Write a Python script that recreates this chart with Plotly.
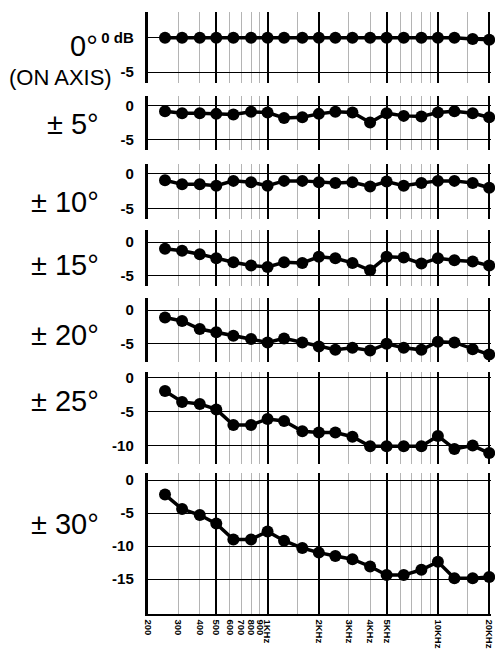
import math
import plotly.graph_objects as go

# ---------------- data ----------------
FREQS = [250, 315, 400, 500, 630, 800, 1000, 1250, 1600, 2000,
         2500, 3150, 4000, 5000, 6300, 8000, 10000, 12500, 16000, 20000]

ANGLE_LABELS = ["0°", "± 5°", "± 10°", "± 15°", "± 20°", "± 25°", "± 30°"]

RESP_0 = [0, 0, 0, 0, 0, 0, 0, 0, 0, 0, 0, 0, 0, 0, 0, 0, 0, 0, -0.2, -0.3]
RESP_5 = [-0.8, -1.1, -1.1, -1.2, -1.3, -0.9, -1.0, -1.8, -1.7, -1.2,
          -0.9, -1.0, -2.5, -1.1, -1.5, -1.6, -1.0, -0.8, -1.1, -1.7]
RESP_10 = [-0.9, -1.5, -1.5, -1.7, -1.0, -1.2, -1.7, -1.0, -1.0, -1.2,
           -1.3, -1.2, -1.8, -1.1, -1.7, -1.3, -1.0, -1.0, -1.3, -2.0]
RESP_15 = [-1.0, -1.3, -1.8, -2.4, -3.0, -3.5, -3.7, -3.0, -3.1, -2.2,
           -2.4, -3.1, -4.2, -2.2, -2.3, -3.2, -2.4, -2.7, -2.9, -3.5]
RESP_20 = [-1.1, -1.6, -2.8, -3.3, -3.8, -4.3, -4.8, -4.2, -4.8, -5.4,
           -5.9, -5.6, -6.0, -5.0, -5.6, -5.9, -4.7, -4.8, -5.8, -6.6]
RESP_25 = [-2.0, -3.6, -3.9, -4.7, -7.0, -7.0, -6.1, -6.4, -7.9, -8.1,
           -8.1, -8.7, -10.1, -10.1, -10.1, -10.1, -8.6, -10.5, -10.0, -11.1]
RESP_30 = [-2.2, -4.4, -5.3, -6.6, -9.0, -9.0, -7.8, -9.2, -10.3, -11.0,
           -11.5, -12.0, -13.1, -14.4, -14.4, -13.6, -12.4, -14.9, -14.9, -14.7]

SERIES = [RESP_0, RESP_5, RESP_10, RESP_15, RESP_20, RESP_25, RESP_30]

X_TICK_VALS = [200, 300, 400, 500, 600, 700, 800, 900, 1000, 2000, 3000, 4000, 5000, 10000, 20000]
X_TICK_TEXT = ["200", "300", "400", "500", "600", "700", "800", "900", "1KHz",
               "2KHz", "3KHz", "4KHz", "5KHz", "10KHz", "20KHz"]
HEAVY_GRID = [500, 1000, 2000, 5000, 10000, 20000]
LIGHT_GRID = [300, 400, 600, 700, 800, 900, 1500, 3000, 4000, 6000, 7000, 8000, 9000, 15000]

# ---------------- layout geometry (screen pixels) ----------------
OFF = 8                      # page body margin of the browser
W, H = 503 - OFF, 649 - OFF  # figure size so it fits the window


def fx(px):
    return (px - OFF) / W


def fy(py):
    return 1 - (py - OFF) / H


X_LEFT, X_RIGHT = 146, 495
X_RANGE = [math.log10(200), math.log10(20000) + 2 / 173.5]

# (top px, bottom px, y-value at top, y-value at bottom, tick values)
PANELS = [
    (8, 80, 3.71, -6.57, [0, -5]),
    (93, 148, 1.47, -6.62, [0, -5]),
    (162, 218, 1.43, -6.57, [0, -5]),
    (229, 285, 1.76, -6.47, [0, -5]),
    (298, 362, 1.76, -7.65, [0, -5]),
    (373, 466, 0.72, -12.75, [0, -5, -10]),
    (475, 618, 1.04, -20.36, [0, -5, -10, -15]),
]
LABEL_POS = [(97, 42), (98, 121), (98, 200), (98, 264), (98, 335), (98, 402), (98, 526)]

FONT = "Liberation Sans, Arial, Helvetica, sans-serif"

fig = go.Figure()
layout = dict(
    width=W, height=H,
    margin=dict(l=0, r=0, t=0, b=0),
    paper_bgcolor="white", plot_bgcolor="white",
    showlegend=False,
    font=dict(family=FONT, color="black"),
    annotations=[],
)

n = len(PANELS)
for i, (top, bot, ytop, ybot, yt) in enumerate(PANELS):
    k = "" if i == 0 else str(i + 1)
    last = (i == n - 1)
    fig.add_trace(go.Scatter(
        x=FREQS, y=SERIES[i], mode="lines+markers",
        xaxis="x" + k, yaxis="y" + k,
        line=dict(color="black", width=3.5),
        marker=dict(color="black", size=12),
        cliponaxis=False, hoverinfo="skip",
    ))
    xa = dict(
        type="log", range=X_RANGE,
        domain=[fx(X_LEFT), fx(X_RIGHT)],
        anchor="y" + k,
        tickmode="array", tickvals=HEAVY_GRID,
        showticklabels=False, ticks="",
        showgrid=True, gridcolor="black", gridwidth=1.6,
        minor=dict(tickmode="array", tickvals=LIGHT_GRID, showgrid=True,
                   gridcolor="#b4b4b4", gridwidth=1, ticks=""),
        showline=last, linecolor="black", linewidth=1.5,
        zeroline=False, fixedrange=True,
    )
    if i > 0:
        xa["matches"] = "x"
    ticktext = [("0 dB" if (i == 0 and v == 0) else str(v)) for v in yt]
    ya = dict(
        range=[ybot, ytop],
        domain=[fy(bot), fy(top)],
        anchor="x" + k,
        tickmode="array", tickvals=yt, ticktext=ticktext,
        ticks="", ticklabelstandoff=9,
        tickfont=dict(size=15, family=FONT, weight="bold", color="black"),
        showgrid=True, gridcolor="black", gridwidth=1,
        zeroline=False,
        showline=True, linecolor="black", linewidth=2.5,
        fixedrange=True,
    )
    layout["xaxis" + k] = xa
    layout["yaxis" + k] = ya

    lx, ly = LABEL_POS[i]
    layout["annotations"].append(dict(
        text=ANGLE_LABELS[i], xref="paper", yref="paper",
        x=fx(lx), y=fy(ly), xanchor="right", yanchor="middle",
        showarrow=False, font=dict(size=29, family=FONT, color="black"),
    ))

layout["annotations"].append(dict(
    text="(ON AXIS)", xref="paper", yref="paper",
    x=fx(111), y=fy(74), xanchor="right", yanchor="middle",
    showarrow=False, font=dict(size=22, family=FONT, color="black"),
))

# tick labels under the last panel (overlay axis carrying an empty helper trace)
fig.add_trace(go.Scatter(
    x=[200, 20000], y=[None, None], mode="markers",
    xaxis="x8", yaxis="y7", hoverinfo="skip", showlegend=False,
))
layout["xaxis8"] = dict(
    type="log", range=X_RANGE, domain=[fx(X_LEFT), fx(X_RIGHT)],
    overlaying="x7", anchor="y7", side="bottom",
    tickmode="array", tickvals=X_TICK_VALS, ticktext=X_TICK_TEXT,
    tickangle=90, ticks="", ticklabelstandoff=4,
    tickfont=dict(size=9.5, family=FONT, weight="bold", color="black"),
    showgrid=False, zeroline=False, showline=False, fixedrange=True,
)

fig.update_layout(**layout)
fig.write_html("out.html")
